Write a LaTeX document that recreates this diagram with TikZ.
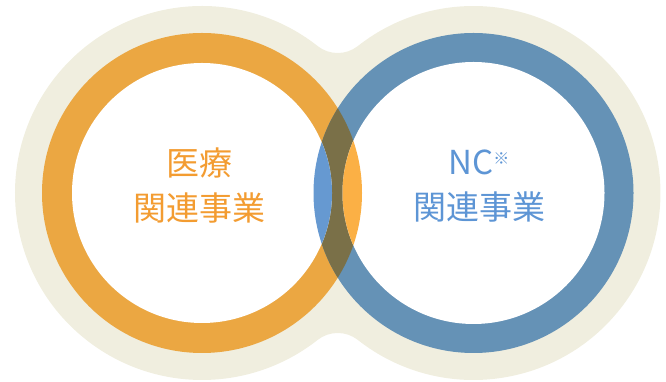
\documentclass[tikz,border=0pt]{standalone}
\usepackage{fontspec}
\newfontfamily\jpfont{Noto Sans CJK JP}
\usepackage{tikz}
\usetikzlibrary{positioning}
\definecolor{bgbeige}{HTML}{F0EEDF}
\definecolor{ringor}{HTML}{EBA742}
\definecolor{ringbl}{HTML}{6592B6}
\definecolor{lightor}{HTML}{FBB045}
\definecolor{lightbl}{HTML}{6699D1}
\definecolor{olive}{HTML}{7A7048}
\definecolor{medtxt}{HTML}{F39C31}
\definecolor{nctxt}{HTML}{5D95D5}
\tikzstyle{lbl}=[align=center, font=\jpfont\fontsize{33}{45}\selectfont, inner sep=0pt]
\newcommand{\notemark}{{\fontsize{16}{16}\selectfont\raisebox{10pt}{※}}}

\begin{document}
\begin{tikzpicture}[x=1pt,y=1pt]
\useasboundingbox (0,0) rectangle (666,382);
\coordinate (L) at (202,189);
\coordinate (R) at (473.5,189);

% beige outline with the waist
\fill[bgbeige] (L) ++(51.8:187) arc[start angle=51.8, end angle=308.2, radius=187]
  arc[start angle=128.2, end angle=51.8, radius=32.5]
  arc[start angle=231.8, end angle=488.2, radius=187]
  arc[start angle=308.2, end angle=231.8, radius=32.5] -- cycle;

% rings
\fill[ringor] (L) circle[radius=160];
\fill[ringbl] (R) circle[radius=160];
\begin{scope}
  \clip (L) circle[radius=160];
  \fill[olive] (R) circle[radius=160];
\end{scope}
\fill[white] (L) circle[radius=130];
\fill[white] (R) circle[radius=131];
\begin{scope}
  \clip (L) circle[radius=130];
  \fill[lightbl] (R) circle[radius=160];
\end{scope}
\begin{scope}
  \clip (R) circle[radius=131];
  \fill[lightor] (L) circle[radius=160];
\end{scope}

% labels
\node[lbl, text=medtxt] (med) at (199,196) {医療\\関連事業};
\node[lbl, text=nctxt] (nc) at (479,196) {NC\notemark\\関連事業};
\end{tikzpicture}
\end{document}
